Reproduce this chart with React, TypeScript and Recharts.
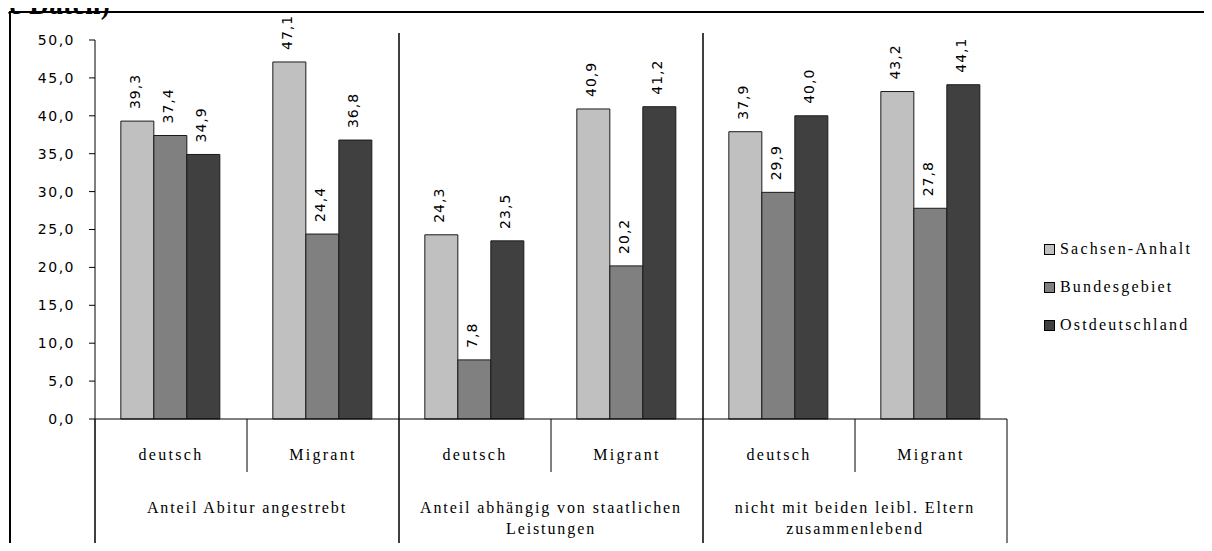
import React from "react";
import { Bar, BarChart, LabelList, XAxis, YAxis } from "recharts";

const subLabels = ["deutsch", "Migrant", "deutsch", "Migrant", "deutsch", "Migrant"];
const groupLabels = [
  ["Anteil Abitur angestrebt"],
  ["Anteil abhängig von staatlichen", "Leistungen"],
  ["nicht mit beiden leibl. Eltern", "zusammenlebend"],
];
const sachsenAnhalt = [39.3, 47.1, 24.3, 40.9, 37.9, 43.2];
const bundesgebiet = [37.4, 24.4, 7.8, 20.2, 29.9, 27.8];
const ostdeutschland = [34.9, 36.8, 23.5, 41.2, 40.0, 44.1];
const yTicks = [0, 5, 10, 15, 20, 25, 30, 35, 40, 45, 50];

const seriesNames = ["Sachsen-Anhalt", "Bundesgebiet", "Ostdeutschland"];
const seriesColors = ["#c0c0c0", "#808080", "#404040"];

const data = subLabels.map((sub, i) => ({
  sub,
  "Sachsen-Anhalt": sachsenAnhalt[i],
  Bundesgebiet: bundesgebiet[i],
  Ostdeutschland: ostdeutschland[i],
}));

const PLOT_W = 912;
const BAND = PLOT_W / subLabels.length;
const AXIS_Y = 419;
const GROUP_TOP = 33;
const FRAME_BOTTOM = 548;
const SUB_BOTTOM = 472;

const serif = "'Liberation Serif', 'DejaVu Serif', serif";
const sans = "'DejaVu Sans', sans-serif";

const fmt = (v: number) => v.toFixed(1).replace(".", ",");

const CategoryTick = (props: any) => {
  const { x, index } = props;
  const start = x - BAND / 2;
  const items: React.ReactNode[] = [];
  if (index % 2 === 0) {
    items.push(
      <line key="g" x1={start} x2={start} y1={index === 0 ? AXIS_Y : GROUP_TOP} y2={FRAME_BOTTOM} stroke="#000" strokeWidth={1.5} />
    );
  } else {
    items.push(<line key="s" x1={start} x2={start} y1={AXIS_Y} y2={SUB_BOTTOM} stroke="#000" strokeWidth={1} />);
    const lines = groupLabels[(index - 1) / 2];
    lines.forEach((t, k) => {
      items.push(
        <text key={"gl" + k} x={start} y={513 + k * 21} textAnchor="middle" fontFamily={serif} fontSize={16} letterSpacing={1.9} fill="#000">
          {t}
        </text>
      );
    });
  }
  if (index === subLabels.length - 1) {
    items.push(<line key="r" x1={start + BAND} x2={start + BAND} y1={AXIS_Y} y2={FRAME_BOTTOM} stroke="#000" strokeWidth={1} />);
  }
  items.push(
    <text key="t" x={x} y={460} textAnchor="middle" fontFamily={serif} fontSize={16} letterSpacing={2.3} fill="#000">
      {subLabels[index]}
    </text>
  );
  return <g>{items}</g>;
};

const ValueLabel = (props: any) => {
  const { x, y, width, value } = props;
  const cx = x + width / 2 - 2;
  const ty = y - 12;
  return (
    <text x={cx} y={ty} transform={`rotate(-90 ${cx} ${ty})`} textAnchor="start" dominantBaseline="central" fontFamily={sans} fontSize={14} letterSpacing={1} fill="#000">
      {fmt(value)}
    </text>
  );
};

const ChartLegend = () => (
  <div style={{ position: "absolute", left: 1044, top: 230 }}>
    {seriesNames.map((n, i) => (
      <div key={n} style={{ display: "flex", alignItems: "center", height: 38 }}>
        <span style={{ width: 9, height: 9, background: seriesColors[i], border: "1px solid #000", marginRight: 5 }} />
        <span style={{ fontFamily: serif, fontSize: 16, letterSpacing: 2.2, color: "#000" }}>{n}</span>
      </div>
    ))}
  </div>
);

export default function App() {
  return (
    <div style={{ position: "relative", width: 1212, height: 551, margin: -8, overflow: "hidden", background: "#fff" }}>
      <div style={{ position: "absolute", left: 0, top: -8, fontFamily: serif, fontWeight: "bold", fontSize: 27, letterSpacing: 0.5, lineHeight: "27px", whiteSpace: "nowrap", zIndex: 2 }}>
        te Daten)
      </div>
      <div style={{ position: "absolute", left: 9, top: 11, width: 1300, height: 600, borderTop: "2px solid #000", borderLeft: "2px solid #000" }} />
      <div style={{ position: "absolute", left: 0, top: 0 }}>
        <BarChart width={1212} height={560} data={data} margin={{ top: 40, right: 205, bottom: 0, left: 35 }} barCategoryGap="17%" barGap={0}>
          <YAxis
            width={60}
            domain={[0, 50]}
            ticks={yTicks}
            tickFormatter={fmt}
            axisLine={{ stroke: "#000" }}
            tickLine={{ stroke: "#000" }}
            tickSize={6}
            tickMargin={14}
            tick={{ fill: "#000", fontFamily: sans, fontSize: 14, letterSpacing: 1.5 }}
          />
          <XAxis
            dataKey="sub"
            height={141}
            axisLine={{ stroke: "#000" }}
            tickLine={false}
            interval={0}
            tick={<CategoryTick />}
          />
          {seriesNames.map((n, i) => (
            <Bar key={n} dataKey={n} fill={seriesColors[i]} stroke="#1a1a1a" strokeWidth={1} isAnimationActive={false}>
              <LabelList dataKey={n} content={<ValueLabel />} />
            </Bar>
          ))}
        </BarChart>
      </div>
      <ChartLegend />
    </div>
  );
}
